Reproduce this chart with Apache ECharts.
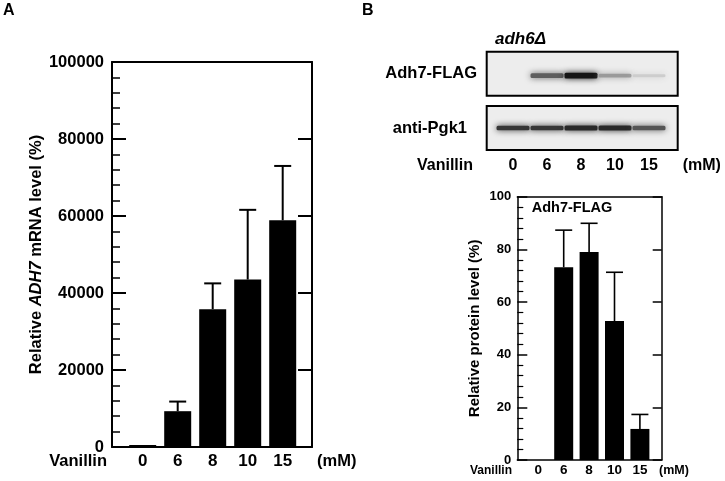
<!DOCTYPE html>
<html>
<head>
<meta charset="utf-8">
<script src="https://cdn.jsdelivr.net/npm/echarts@6/dist/echarts.min.js"></script>
<style>
html,body{margin:0;padding:0;background:#fff;}
#chart{width:725px;height:481px;}
</style>
</head>
<body>
<div id="chart"></div>
<script>
// ---- data ----
const vanillinCats = ['0', '6', '8', '10', '15'];
const mrnaMean = [100, 9300, 35800, 43500, 58900];
const mrnaSD = [0, 2500, 6700, 18100, 14100];
const proteinMean = [0, 73.2, 79.0, 52.8, 11.8];
const proteinSD = [0, 14.1, 10.9, 18.5, 5.5];
const flagBandIntensity = [0, 0.62, 0.95, 0.35, 0.12];
const pgkBandIntensity = [0.8, 0.8, 0.86, 0.86, 0.66];

const FONT = '"Liberation Sans", Arial, Helvetica, sans-serif';
const chart = echarts.init(document.getElementById('chart'), null, {renderer: 'canvas'});

function frameX(grid, pos, w) {
  return {type: 'value', gridIndex: grid, position: pos, min: 0, max: 1,
    axisLine: {show: true, onZero: false, lineStyle: {color: '#000', width: w}},
    axisTick: {show: false}, axisLabel: {show: false}, splitLine: {show: false}};
}
function hiddenX(grid, min, max) {
  return {type: 'value', gridIndex: grid, min: min, max: max, show: false, splitLine: {show: false}};
}
function hiddenY(grid, min, max) {
  return {type: 'value', gridIndex: grid, min: min, max: max, show: false, splitLine: {show: false}};
}
function catX(grid, fontSize, margin) {
  return {type: 'category', gridIndex: grid, data: vanillinCats,
    axisLine: {show: false}, axisTick: {show: false}, splitLine: {show: false},
    axisLabel: {show: true, color: '#000', fontWeight: 'bold', fontSize: fontSize, fontFamily: FONT, margin: margin, interval: 0}};
}
const plain = v => String(v);

function errRender(lw, cap) {
  return function (params, api) {
    const i = api.value(0), m = api.value(1), e = api.value(2);
    if (!e) return null;
    const p0 = api.coord([i, m]);
    const p1 = api.coord([i, m + e]);
    return {type: 'group', children: [
      {type: 'line', shape: {x1: p0[0], y1: p0[1], x2: p1[0], y2: p1[1]}, style: {stroke: '#000', lineWidth: lw}},
      {type: 'line', shape: {x1: p1[0] - cap / 2, y1: p1[1], x2: p1[0] + cap / 2, y2: p1[1]}, style: {stroke: '#000', lineWidth: lw}}
    ]};
  };
}

function bandRender(yLevel, baseH, extraH) {
  return function (params, api) {
    const i = api.value(0), v = api.value(1);
    if (!v) return null;
    const c = api.coord([i, yLevel]);
    const w = api.size([1, 0])[0];
    const g = Math.round(232 - 222 * v);
    const col = 'rgb(' + g + ',' + g + ',' + g + ')';
    const h = baseH + extraH * v;
    return {type: 'rect', shape: {x: c[0] - w / 2 + 0.5, y: c[1] - h / 2, width: w - 1, height: h, r: 1.5},
      style: {fill: col, shadowBlur: 6, shadowColor: col}};
  };
}

const laneMin = -0.774, laneMax = 4.844;

const option = {
  animation: false,
  backgroundColor: '#fff',
  textStyle: {fontFamily: FONT},
  grid: [
    {left: 112, top: 62, width: 200, height: 385, show: false},                 // 0 A frame
    {left: 125.2, top: 62, width: 175, height: 385, show: false},               // 1 A data
    {left: 486.7, top: 51.7, width: 191, height: 44, show: true, borderColor: '#000', borderWidth: 2, backgroundColor: '#ededed'}, // 2 flag strip
    {left: 486.7, top: 106, width: 191, height: 44, show: true, borderColor: '#000', borderWidth: 2, backgroundColor: '#ededed'},  // 3 pgk strip
    {left: 496, top: 106, width: 170, height: 44, show: false},                 // 4 lanes labels
    {left: 517.3, top: 196.7, width: 144.4, height: 263.3, show: false},        // 5 B frame
    {left: 525.6, top: 196.7, width: 127, height: 263.3, show: false}           // 6 B data
  ],
  xAxis: [
    frameX(0, 'bottom', 2),
    frameX(0, 'top', 2),
    catX(1, 17, 6),
    hiddenX(2, laneMin, laneMax),
    hiddenX(3, laneMin, laneMax),
    catX(4, 16, 8),
    frameX(5, 'bottom', 1.5),
    frameX(5, 'top', 1.5),
    catX(6, 13.5, 3)
  ],
  yAxis: [
    {type: 'value', gridIndex: 0, position: 'left', min: 0, max: 100000, interval: 20000,
      axisLine: {show: true, onZero: false, lineStyle: {color: '#000', width: 2}},
      axisTick: {show: true, inside: true, length: 14, lineStyle: {color: '#000', width: 2}},
      minorTick: {show: true, splitNumber: 5, length: 8, lineStyle: {color: '#000', width: 1.5}},
      splitLine: {show: false},
      axisLabel: {color: '#000', fontWeight: 'bold', fontSize: 16.5, fontFamily: FONT, margin: 8, formatter: plain},
      name: '{n|Relative }{i|ADH7}{n| mRNA level (%)}', nameLocation: 'middle', nameRotate: 90, nameGap: 67,
      nameTextStyle: {rich: {
        n: {fontWeight: 'bold', fontSize: 16.5, fontFamily: FONT, color: '#000'},
        i: {fontWeight: 'bold', fontStyle: 'italic', fontSize: 16.5, fontFamily: FONT, color: '#000'}
      }}},
    {type: 'value', gridIndex: 0, position: 'right', min: 0, max: 100000, interval: 20000,
      axisLine: {show: true, onZero: false, lineStyle: {color: '#000', width: 2}},
      axisTick: {show: true, inside: true, length: 14, lineStyle: {color: '#000', width: 2}},
      axisLabel: {show: false}, splitLine: {show: false}},
    hiddenY(1, 0, 100000),
    hiddenY(2, 0, 1),
    hiddenY(3, 0, 1),
    hiddenY(4, 0, 1),
    {type: 'value', gridIndex: 5, position: 'left', min: 0, max: 100, interval: 20,
      axisLine: {show: true, onZero: false, lineStyle: {color: '#000', width: 1.5}},
      axisTick: {show: true, inside: true, length: 10, lineStyle: {color: '#000', width: 1.5}},
      minorTick: {show: true, splitNumber: 5, length: 6, lineStyle: {color: '#000', width: 1.2}},
      splitLine: {show: false},
      axisLabel: {color: '#000', fontWeight: 'bold', fontSize: 13, fontFamily: FONT, margin: 6, formatter: plain},
      name: 'Relative protein level (%)', nameLocation: 'middle', nameRotate: 90, nameGap: 35,
      nameTextStyle: {fontWeight: 'bold', fontSize: 15, fontFamily: FONT, color: '#000'}},
    {type: 'value', gridIndex: 5, position: 'right', min: 0, max: 100, interval: 20,
      axisLine: {show: true, onZero: false, lineStyle: {color: '#000', width: 1.5}},
      axisTick: {show: true, inside: true, length: 9, lineStyle: {color: '#000', width: 1.5}},
      axisLabel: {show: false}, splitLine: {show: false}},
    hiddenY(6, 0, 100)
  ],
  series: [
    {type: 'bar', xAxisIndex: 2, yAxisIndex: 2, data: mrnaMean, barWidth: 27, barMinHeight: 2,
      itemStyle: {color: '#000'}, silent: true},
    {type: 'custom', xAxisIndex: 2, yAxisIndex: 2, renderItem: errRender(2, 17), z: 5,
      encode: {x: 0, y: 1}, data: vanillinCats.map((c, i) => [i, mrnaMean[i], mrnaSD[i]])},
    {type: 'custom', xAxisIndex: 3, yAxisIndex: 3, renderItem: bandRender(0.455, 2.5, 3.5), encode: {x: 0, y: 1},
      data: flagBandIntensity.map((v, i) => [i, v])},
    {type: 'custom', xAxisIndex: 4, yAxisIndex: 4, renderItem: bandRender(0.5, 3.5, 1.5), encode: {x: 0, y: 1},
      data: pgkBandIntensity.map((v, i) => [i, v])},
    {type: 'bar', xAxisIndex: 8, yAxisIndex: 8, data: proteinMean, barWidth: 19,
      itemStyle: {color: '#000'}, silent: true},
    {type: 'custom', xAxisIndex: 8, yAxisIndex: 8, renderItem: errRender(1.6, 17), z: 5,
      encode: {x: 0, y: 1}, data: vanillinCats.map((c, i) => [i, proteinMean[i], proteinSD[i]])}
  ],
  graphic: [
    {type: 'text', left: 3, top: 3, style: {text: 'A', font: 'bold 16px ' + FONT, fill: '#000'}},
    {type: 'text', left: 362, top: 3, style: {text: 'B', font: 'bold 16px ' + FONT, fill: '#000'}},
    {type: 'text', x: 107, y: 461.7, style: {text: 'Vanillin', font: 'bold 16.5px ' + FONT, fill: '#000', textAlign: 'right', textVerticalAlign: 'middle'}},
    {type: 'text', x: 317, y: 461.7, style: {text: '(mM)', font: 'bold 16.5px ' + FONT, fill: '#000', textAlign: 'left', textVerticalAlign: 'middle'}},
    {type: 'text', x: 495, y: 39, style: {text: 'adh6Δ', font: 'italic bold 17px ' + FONT, fill: '#000', textAlign: 'left', textVerticalAlign: 'middle'}},
    {type: 'text', x: 477, y: 73, style: {text: 'Adh7-FLAG', font: 'bold 16.5px ' + FONT, fill: '#000', textAlign: 'right', textVerticalAlign: 'middle'}},
    {type: 'text', x: 467, y: 128, style: {text: 'anti-Pgk1', font: 'bold 16.5px ' + FONT, fill: '#000', textAlign: 'right', textVerticalAlign: 'middle'}},
    {type: 'text', x: 473, y: 165.7, style: {text: 'Vanillin', font: 'bold 16px ' + FONT, fill: '#000', textAlign: 'right', textVerticalAlign: 'middle'}},
    {type: 'text', x: 682.7, y: 165.7, style: {text: '(mM)', font: 'bold 16px ' + FONT, fill: '#000', textAlign: 'left', textVerticalAlign: 'middle'}},
    {type: 'text', x: 531.7, y: 208.3, style: {text: 'Adh7-FLAG', font: 'bold 14.5px ' + FONT, fill: '#000', textAlign: 'left', textVerticalAlign: 'middle'}},
    {type: 'text', x: 512, y: 470.7, style: {text: 'Vanillin', font: 'bold 12px ' + FONT, fill: '#000', textAlign: 'right', textVerticalAlign: 'middle'}},
    {type: 'text', x: 659, y: 470.7, style: {text: '(mM)', font: 'bold 12.5px ' + FONT, fill: '#000', textAlign: 'left', textVerticalAlign: 'middle'}}
  ]
};
chart.setOption(option);
</script>
</body>
</html>
